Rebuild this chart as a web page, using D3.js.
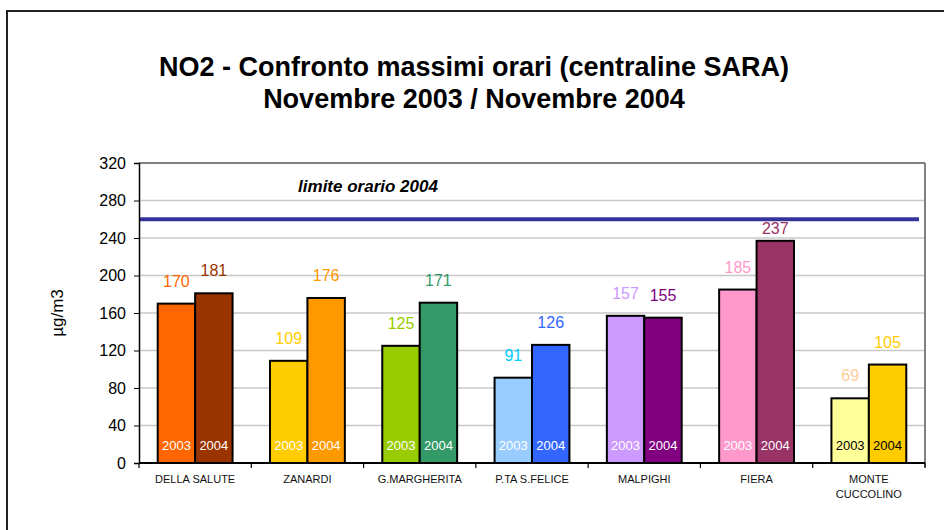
<!DOCTYPE html>
<html>
<head>
    <title>NO2 - Confronto massimi orari</title>
    <style>
        body { margin: 0; background: #fff; }
        svg { display: block; font-family: Arial, "Liberation Sans", sans-serif; }
    </style>
</head>
<body>
    <svg width="944" height="530"></svg>
    <script src="https://d3js.org/d3.v7.min.js"></script>
    <script>
        // chart data
        var stations = ["DELLA SALUTE", "ZANARDI", "G.MARGHERITA", "P.TA S.FELICE", "MALPIGHI", "FIERA", "MONTE CUCCOLINO"];
        var years = ["2003", "2004"];
        var values2003 = [170, 109, 125, 91, 157, 185, 69];
        var values2004 = [181, 176, 171, 126, 155, 237, 105];
        var yTicks = [0, 40, 80, 120, 160, 200, 240, 280, 320];
        var limitValue = 260;
        var limitLabel = "limite orario 2004";

        // colours of the bars (one pair per station) and of their value labels
        var fill2003 = ["#FF6600", "#FFCC00", "#99CC00", "#99CCFF", "#CC99FF", "#FF99CC", "#FFFF99"];
        var fill2004 = ["#993300", "#FF9900", "#339966", "#3366FF", "#800080", "#993366", "#FFCC00"];
        var label2003 = ["#FF6600", "#FFCC00", "#99CC00", "#00CCFF", "#CC99FF", "#FF99CC", "#FFCC99"];
        var label2004 = ["#993300", "#FF9900", "#339966", "#3366FF", "#800080", "#993366", "#FFCC00"];
        var innerText = ["#fff", "#fff", "#fff", "#fff", "#fff", "#fff", "#000"];

        var svg = d3.select("svg");
        // plot area edges (note: "top" is reserved by the window object)
        var plotLeft = 139, plotRight = 925, plotTop = 163, plotBottom = 463;

        // outer frame (only top and left edges are visible)
        svg.append("path")
            .attr("d", "M7,530 L7,11 L944,11")
            .attr("fill", "none")
            .attr("stroke", "#222")
            .attr("stroke-width", 2);

        // title
        var title = svg.append("text")
            .attr("text-anchor", "middle")
            .style("font-size", "27px")
            .style("font-weight", "bold");
        title.append("tspan").attr("x", 474).attr("y", 76).text("NO2 - Confronto massimi orari (centraline SARA)");
        title.append("tspan").attr("x", 474).attr("y", 108).text("Novembre 2003 / Novembre 2004");

        // scales
        var y = d3.scaleLinear().domain([0, 320]).range([plotBottom, plotTop]);
        var x = d3.scaleBand().domain(stations).range([plotLeft, plotRight]);
        var bw = x.bandwidth();
        var xi = d3.scaleBand().domain(years).range([bw / 6, bw - bw / 6]);

        // gridlines
        svg.append("g")
            .selectAll("line")
            .data(yTicks.filter(function(d){ return d > 0 && d < 320; }))
            .enter()
            .append("line")
            .attr("x1", plotLeft).attr("x2", plotRight)
            .attr("y1", function(d){ return y(d); })
            .attr("y2", function(d){ return y(d); })
            .attr("stroke", "#c8c8c8")
            .attr("stroke-width", 1.5);

        // plot border: black top, gray right
        svg.append("line")
            .attr("x1", plotLeft).attr("x2", plotRight)
            .attr("y1", plotTop).attr("y2", plotTop)
            .attr("stroke", "#000").attr("stroke-width", 1.2);
        svg.append("line")
            .attr("x1", plotRight).attr("x2", plotRight)
            .attr("y1", plotTop).attr("y2", plotBottom + 4)
            .attr("stroke", "#808080").attr("stroke-width", 2);

        // limit line
        svg.append("line")
            .attr("x1", plotLeft).attr("x2", plotRight - 6)
            .attr("y1", y(limitValue)).attr("y2", y(limitValue))
            .attr("stroke", "#333399")
            .attr("stroke-width", 4);
        svg.append("text")
            .attr("x", 368).attr("y", 192)
            .attr("text-anchor", "middle")
            .style("font-size", "17px")
            .style("font-weight", "bold")
            .style("font-style", "italic")
            .text(limitLabel);

        // bars
        var rows = [];
        stations.forEach(function(s, i){
            rows.push({station: s, year: "2003", value: values2003[i], fill: fill2003[i], label: label2003[i], inner: innerText[i]});
            rows.push({station: s, year: "2004", value: values2004[i], fill: fill2004[i], label: label2004[i], inner: innerText[i]});
        });

        var bars = svg.append("g")
            .selectAll("g")
            .data(rows)
            .enter()
            .append("g")
            .attr("transform", function(d){ return "translate(" + (x(d.station) + xi(d.year)) + ",0)"; });

        bars.append("rect")
            .attr("x", 0)
            .attr("width", xi.bandwidth())
            .attr("y", function(d){ return y(d.value); })
            .attr("height", function(d){ return y(0) - y(d.value); })
            .attr("fill", function(d){ return d.fill; })
            .attr("stroke", "#000")
            .attr("stroke-width", 2);

        // value labels above the bars, kept below the limit line
        bars.append("text")
            .attr("x", xi.bandwidth() / 2)
            .attr("y", function(d){ return Math.max(y(d.value) - 17, y(limitValue) + 15); })
            .attr("text-anchor", "middle")
            .style("font-size", "16px")
            .attr("fill", function(d){ return d.label; })
            .text(function(d){ return d.value; });

        // year labels inside the bars
        bars.append("text")
            .attr("x", xi.bandwidth() / 2)
            .attr("y", 450)
            .attr("text-anchor", "middle")
            .style("font-size", "13px")
            .attr("fill", function(d){ return d.inner; })
            .text(function(d){ return d.year; });

        // y axis
        var yAxis = svg.append("g")
            .attr("transform", "translate(" + plotLeft + ",0)")
            .call(d3.axisLeft(y).tickValues(yTicks).tickSize(5).tickPadding(8));
        yAxis.select(".domain").attr("stroke", "#000").attr("stroke-width", 1.5);
        yAxis.selectAll(".tick line").attr("stroke", "#000");
        yAxis.selectAll(".tick text")
            .attr("fill", "#000")
            .style("font-size", "16px")
            .style("font-family", "Arial, 'Liberation Sans', sans-serif");

        svg.append("text")
            .attr("transform", "translate(63,313) rotate(-90)")
            .attr("text-anchor", "middle")
            .style("font-size", "17px")
            .text("µg/m3");

        // x axis with ticks at band edges
        svg.append("line")
            .attr("x1", plotLeft).attr("x2", plotRight)
            .attr("y1", plotBottom).attr("y2", plotBottom)
            .attr("stroke", "#000").attr("stroke-width", 2);
        svg.append("g")
            .selectAll("line")
            .data(stations.concat(["_end"]))
            .enter()
            .append("line")
            .attr("x1", function(d){ return d === "_end" ? plotRight : x(d); })
            .attr("x2", function(d){ return d === "_end" ? plotRight : x(d); })
            .attr("y1", plotBottom).attr("y2", plotBottom + 5)
            .attr("stroke", "#000").attr("stroke-width", 1.2);

        // category labels (long names wrap onto two lines)
        var cats = svg.append("g")
            .selectAll("text")
            .data(stations)
            .enter()
            .append("text")
            .attr("text-anchor", "middle")
            .style("font-size", "11px")
            .attr("fill", "#111");
        cats.each(function(d){
            var words = d === "MONTE CUCCOLINO" ? ["MONTE", "CUCCOLINO"] : [d];
            var t = d3.select(this);
            words.forEach(function(w, k){
                t.append("tspan")
                    .attr("x", x(d) + bw / 2)
                    .attr("y", 483 + k * 15)
                    .text(w);
            });
        });
    </script>
</body>
</html>
